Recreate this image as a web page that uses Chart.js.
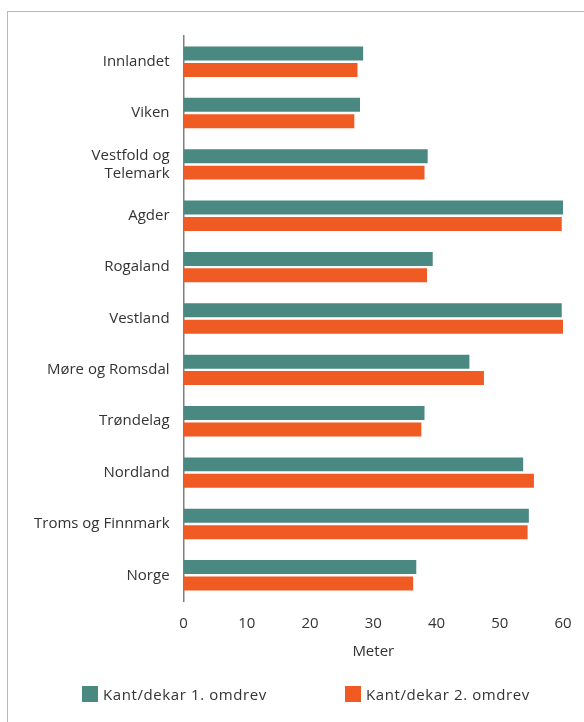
<!DOCTYPE html>
<html>
<head>
<meta charset="utf-8">
<script src="https://cdn.jsdelivr.net/npm/chart.js@4/dist/chart.umd.min.js"></script>
<style>
  html, body { margin: 0; padding: 0; background: #fff; }
  #frame { position: absolute; left: 7px; top: 11px; width: 600px; height: 720px; border: 1px solid #b8b8b8; }
  #wrap { position: absolute; left: 0; top: 0; width: 584px; height: 722px; }
  #legend { position: absolute; top: 684px; left: 82px; font: 15px 'Open Sans', sans-serif; color: #333; letter-spacing: 0.6px; }
  #legend span.item { position: absolute; white-space: nowrap; display: flex; align-items: center; }
  #legend span.box { display: inline-block; width: 16px; height: 16px; margin-right: 5px; }
</style>
</head>
<body>
<div id="frame"></div>
<div id="wrap"><canvas id="chart"></canvas></div>
<div id="legend"></div>
<script>
// regions, top to bottom
const regions = ['Innlandet', 'Viken', ['Vestfold og', 'Telemark'], 'Agder', 'Rogaland', 'Vestland',
  'Møre og Romsdal', 'Trøndelag', 'Nordland', 'Troms og Finnmark', 'Norge'];
const round1 = [28.4, 27.9, 38.6, 60.2, 39.4, 59.8, 45.2, 38.1, 53.7, 54.6, 36.8];
const round2 = [27.5, 27.0, 38.1, 59.8, 38.5, 60.2, 47.5, 37.6, 55.4, 54.4, 36.3];
const xTicks = [0, 10, 20, 30, 40, 50, 60];

const font = "'Open Sans', sans-serif";

const chart = new Chart(document.getElementById('chart'), {
  type: 'bar',
  data: {
    labels: regions,
    datasets: [
      { label: 'Kant/dekar 1. omdrev', data: round1, backgroundColor: '#4a8981' },
      { label: 'Kant/dekar 2. omdrev', data: round2, backgroundColor: '#f05a23' }
    ]
  },
  options: {
    indexAxis: 'y',
    responsive: true,
    maintainAspectRatio: false,
    animation: false,
    categoryPercentage: 0.64,
    barPercentage: 0.85,
    layout: { padding: { left: 20, right: 21, top: 36, bottom: 57 } },
    scales: {
      x: {
        min: 0, max: 60,
        afterBuildTicks: axis => { axis.ticks = xTicks.map(v => ({ value: v })); },
        grid: { display: false },
        border: { display: false },
        ticks: { color: '#333', font: { family: font, size: 15 }, padding: 6 },
        title: { display: true, text: 'Meter', color: '#333', font: { family: font, size: 15 }, padding: { top: 4 } }
      },
      y: {
        grid: { display: false, drawTicks: false },
        border: { display: true, color: '#7f7f7f', width: 1.5 },
        ticks: { color: '#333', font: { family: font, size: 15 }, padding: 14 }
      }
    },
    plugins: {
      tooltip: { enabled: false },
      legend: { display: false }
    }
  }
});

// legend built from the datasets
const legendX = [0, 263];
const legend = document.getElementById('legend');
chart.data.datasets.forEach((ds, i) => {
  const item = document.createElement('span');
  item.className = 'item';
  item.style.left = legendX[i] + 'px';
  item.innerHTML = '<span class="box" style="background:' + ds.backgroundColor + '"></span>' + ds.label;
  legend.appendChild(item);
});
</script>
</body>
</html>
